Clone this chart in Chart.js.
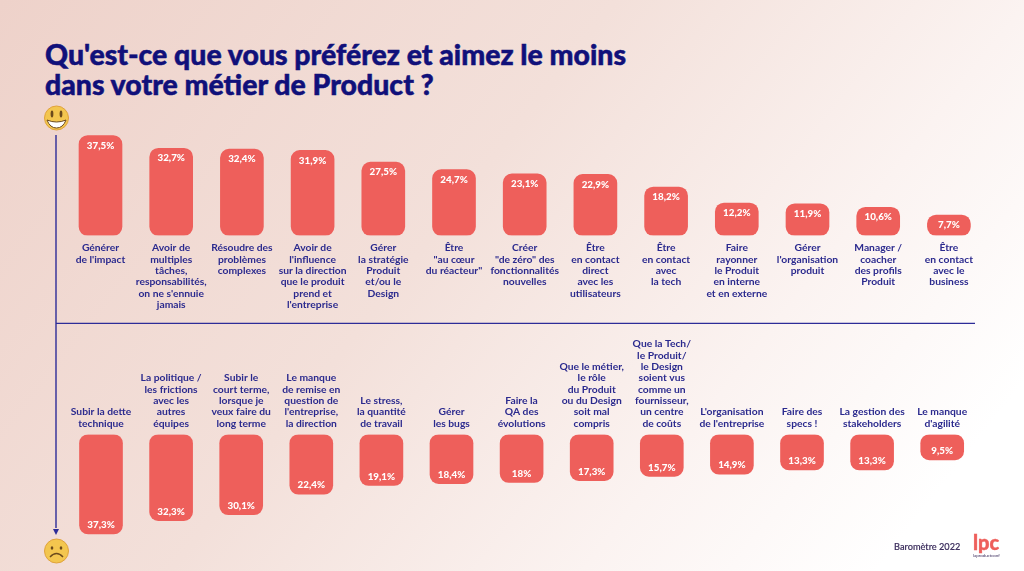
<!DOCTYPE html>
<html lang="fr">
<head>
<meta charset="utf-8">
<title>Baromètre 2022</title>
<script src="https://cdn.jsdelivr.net/npm/chart.js@4"></script>
<style>
    html, body { margin: 0; padding: 0; }
    body {
        position: relative;
        width: 1024px;
        height: 571px;
        overflow: hidden;
        background: linear-gradient(128deg, #eed2ca 0%, #f3e0da 42%, #fbf3f1 70%, #ffffff 90%);
        font-family: Lato, sans-serif;
    }
    h1 {
        position: absolute;
        left: 45px;
        top: 39px;
        margin: 0;
        font-size: 28.45px;
        line-height: 30px;
        font-weight: 900;
        color: #10107a;
        -webkit-text-stroke: 0.5px #10107a;
        white-space: nowrap;
    }
    #chartTop { position: absolute; left: 0; top: 120px; }
    #chartBottom { position: absolute; left: 0; top: 330px; }
    #decor { position: absolute; left: 0; top: 0; }
    #barometre {
        position: absolute;
        left: 894px;
        top: 541px;
        font-size: 9.2px;
        line-height: 12px;
        font-weight: 500;
        color: #3a2c5c;
        -webkit-text-stroke: 0.15px #3a2c5c;
    }
    #lpc {
        position: absolute;
        left: 973px;
        top: 530px;
        font-size: 20px;
        line-height: 24px;
        font-weight: 900;
        color: #ee5f5b;
        -webkit-text-stroke: 0.4px #ee5f5b;
    }
    #lpcSmall {
        position: absolute;
        left: 973px;
        top: 553px;
        font-size: 4.4px;
        line-height: 6px;
        color: #3a2c5c;
    }
</style>
</head>
<body>
<h1>Qu'est-ce que vous préférez et aimez le moins<br>dans votre métier de Product ?</h1>

<svg id="decor" width="1024" height="571">
    <line x1="56" y1="135" x2="56" y2="528" stroke="#2d2c98" stroke-width="1.4"/>
    <line x1="56" y1="323.4" x2="975" y2="323.4" stroke="#2d2c98" stroke-width="1.4"/>
    <polygon points="53,529 59,529 56,535" fill="#2d2c98"/>
    <!-- content -->
    <circle cx="56.5" cy="118" r="12" fill="#f3c64f" stroke="#e0a33c"/>
    <ellipse cx="52" cy="114" rx="1.4" ry="3.4" fill="#6b4a1c"/>
    <ellipse cx="61" cy="114" rx="1.4" ry="3.4" fill="#6b4a1c"/>
    <path d="M47 120 Q56.5 124 66 120 Q63 128 56.5 128 Q50 128 47 120 Z" fill="#fff" stroke="#6b4a1c"/>
    <!-- not content -->
    <circle cx="56.5" cy="551" r="12" fill="#f3c64f" stroke="#e0a33c"/>
    <ellipse cx="52" cy="548" rx="1.3" ry="1.8" fill="#6b4a1c"/>
    <ellipse cx="61" cy="548" rx="1.3" ry="1.8" fill="#6b4a1c"/>
    <path d="M50 557 Q56.5 550 63 557" fill="none" stroke="#6b4a1c" stroke-width="1.4"/>
</svg>

<canvas id="chartTop" width="1024" height="200" style="width:1024px;height:200px"></canvas>
<canvas id="chartBottom" width="1024" height="215" style="width:1024px;height:215px"></canvas>

<div id="barometre">Baromètre 2022</div>
<div id="lpc">lpc</div>
<div id="lpcSmall">laproductconf</div>

<script>
const topLabels = [
    ["Générer", "de l'impact"],
    ["Avoir de", "multiples", "tâches,", "responsabilités,", "on ne s'ennuie", "jamais"],
    ["Résoudre des", "problèmes", "complexes"],
    ["Avoir de", "l'influence", "sur la direction", "que le produit", "prend et", "l'entreprise"],
    ["Gérer", "la stratégie", "Produit", "et/ou le", "Design"],
    ["Être", "\"au cœur", "du réacteur\""],
    ["Créer", "\"de zéro\" des", "fonctionnalités", "nouvelles"],
    ["Être", "en contact", "direct", "avec les", "utilisateurs"],
    ["Être", "en contact", "avec", "la tech"],
    ["Faire", "rayonner", "le Produit", "en interne", "et en externe"],
    ["Gérer", "l'organisation", "produit"],
    ["Manager /", "coacher", "des profils", "Produit"],
    ["Être", "en contact", "avec le", "business"]
];
const topValues = [37.5, 32.7, 32.4, 31.9, 27.5, 24.7, 23.1, 22.9, 18.2, 12.2, 11.9, 10.6, 7.7];

const bottomLabels = [
    ["Subir la dette", "technique"],
    ["La politique /", "les frictions", "avec les", "autres", "équipes"],
    ["Subir le", "court terme,", "lorsque je", "veux faire du", "long terme"],
    ["Le manque", "de remise en", "question de", "l'entreprise,", "la direction"],
    ["Le stress,", "la quantité", "de travail"],
    ["Gérer", "les bugs"],
    ["Faire la", "QA des", "évolutions"],
    ["Que le métier,", "le rôle", "du Produit", "ou du Design", "soit mal", "compris"],
    ["Que la Tech/", "le Produit/", "le Design", "soient vus", "comme un", "fournisseur,", "un centre", "de coûts"],
    ["L'organisation", "de l'entreprise"],
    ["Faire des", "specs !"],
    ["La gestion des", "stakeholders"],
    ["Le manque", "d'agilité"]
];
const bottomValues = [37.3, 32.3, 30.1, 22.4, 19.1, 18.4, 18, 17.3, 15.7, 14.9, 13.3, 13.3, 9.5];

const valueMax = 40;

// writes the value inside each bar, at its far end
const valueLabels = {
    id: 'valueLabels',
    afterDatasetsDraw(chart) {
        const ctx = chart.ctx;
        const down = chart.options.scales.y.reverse;
        const values = chart.data.datasets[0].data;
        ctx.save();
        ctx.fillStyle = '#ffffff';
        ctx.font = '900 9.8px Lato';
        ctx.textAlign = 'center';
        ctx.textBaseline = 'middle';
        chart.getDatasetMeta(0).data.forEach(function (bar, i) {
            const text = String(values[i]).replace('.', ',') + '%';
            ctx.fillText(text, bar.x, down ? bar.y - 9 : bar.y + 10);
        });
        ctx.restore();
    }
};

function makeChart(id, labels, values, axisPosition, axisHeight, tickPadding, padding) {
    return new Chart(document.getElementById(id), {
        type: 'bar',
        data: {
            labels: labels,
            datasets: [{
                data: values,
                backgroundColor: '#ee5f5b',
                borderRadius: 9,
                borderSkipped: false,
                barThickness: 43
            }]
        },
        options: {
            responsive: false,
            animation: false,
            layout: { padding: padding },
            plugins: {
                legend: { display: false },
                tooltip: { enabled: false }
            },
            scales: {
                x: {
                    position: axisPosition,
                    grid: { display: false, drawTicks: false },
                    border: { display: false },
                    afterFit: function (scale) { scale.height = axisHeight; },
                    ticks: {
                        autoSkip: false,
                        maxRotation: 0,
                        padding: tickPadding,
                        color: '#2b2a8e',
                        font: { family: 'Lato', size: 10.3, weight: '700', lineHeight: '11.33px' }
                    }
                },
                y: {
                    display: false,
                    min: 0,
                    max: valueMax,
                    reverse: axisPosition === 'top'
                }
            }
        },
        plugins: [valueLabels]
    });
}

makeChart('chartTop', topLabels, topValues, 'bottom', 84.5, 7, { left: 65.15, right: 39.75, top: 8.83, bottom: 0 });
makeChart('chartBottom', bottomLabels, bottomValues, 'top', 104.5, 5.5, { left: 65.95, right: 46.75, top: 0, bottom: 3.83 });
</script>
</body>
</html>
